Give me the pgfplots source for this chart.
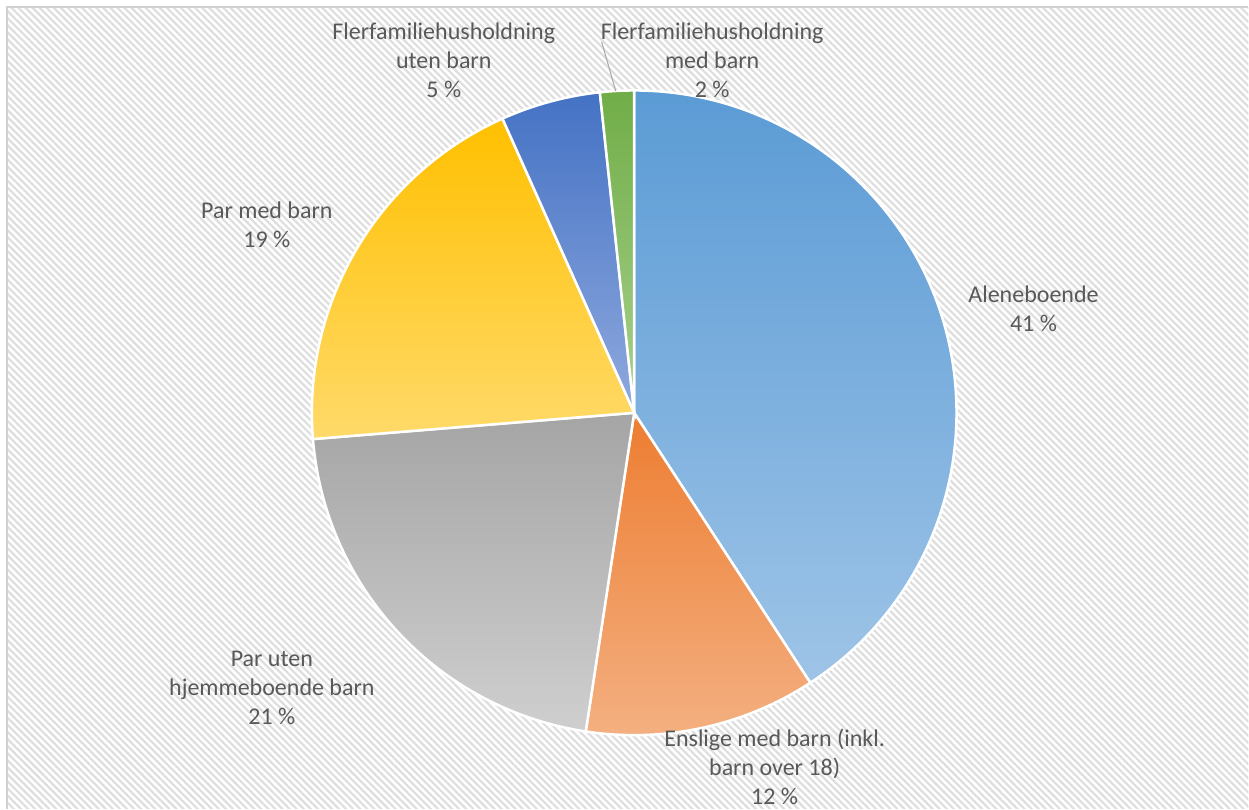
\documentclass[border=0pt]{standalone}
\usepackage{pgfplots}
\pgfplotsset{compat=1.18}
\usepackage{pgfplotstable}
\usetikzlibrary{patterns.meta}
\usepackage{fontspec}
\setmainfont{Carlito}
\definecolor{txt}{HTML}{595959}
\definecolor{aTop}{HTML}{5B9BD5}\definecolor{aBot}{HTML}{9EC4E7}
\definecolor{eTop}{HTML}{ED7D31}\definecolor{eBot}{HTML}{F4B183}
\definecolor{uTop}{HTML}{A5A5A5}\definecolor{uBot}{HTML}{CFCFCF}
\definecolor{mTop}{HTML}{FFC000}\definecolor{mBot}{HTML}{FFDA6A}
\definecolor{fTop}{HTML}{4472C4}\definecolor{fBot}{HTML}{8FA9DE}
\definecolor{gTop}{HTML}{70AD47}\definecolor{gBot}{HTML}{A9D18E}
\newcommand\lbl{\fontsize{12}{14.5}\selectfont}

\pgfplotstableread{
slice value
1 40.8
2 11.6
3 21.3
4 19.6
5 5.0
6 1.7
}\piedata

\newcommand\pieslice[3]{%
  \addplot[draw=white, line width=1.25pt, top color=#2, bottom color=#3]
    coordinates {(634.5,396)}
    -- ++(\csname sa#1\endcsname:161.25pt)
    arc[start angle=\csname sa#1\endcsname, end angle=\csname ea#1\endcsname, radius=161.25pt]
    -- cycle;}

\begin{document}
\begin{tikzpicture}
\def\acc{90}
\pgfplotsforeachungrouped \i in {0,...,5}{%
  \pgfplotstablegetelem{\i}{value}\of\piedata
  \pgfmathsetmacro\e{\acc-3.6*\pgfplotsretval}%
  \expandafter\xdef\csname sa\i\endcsname{\acc}%
  \expandafter\xdef\csname ea\i\endcsname{\e}%
  \xdef\acc{\e}%
}
\begin{axis}[
  scale only axis, width=624.5pt, height=404.5pt,
  xmin=0, xmax=1249, ymin=0, ymax=809,
  hide axis, clip=false,
]
\fill[white] (axis cs:0,0) rectangle (axis cs:1249,809);
\fill[pattern={Lines[angle=-45,distance=2.5pt,line width=1.1pt]}, pattern color=black!13]
  (axis cs:8,0) rectangle (axis cs:1249,801);
\draw[black!18, line width=0.6pt] (axis cs:7,0) -- (axis cs:7,802) -- (axis cs:1249,802);

\pieslice{0}{aTop}{aBot}
\pieslice{1}{eTop}{eBot}
\pieslice{2}{uTop}{uBot}
\pieslice{3}{mTop}{mBot}
\pieslice{4}{fTop}{fBot}
\pieslice{5}{gTop}{gBot}

\draw[black!35, line width=0.5pt] (axis cs:602,767) -- (axis cs:616,718);

\node[align=center, text=txt, font=\lbl, inner sep=0pt] at (axis cs:444,749) {Flerfamiliehusholdning\\uten barn\\5 \%};
\node[align=center, text=txt, font=\lbl, inner sep=0pt] at (axis cs:712.5,749) {Flerfamiliehusholdning\\med barn\\2 \%};
\node[align=center, text=txt, font=\lbl, inner sep=0pt] at (axis cs:1034,500.5) {Aleneboende\\41 \%};
\node[align=center, text=txt, font=\lbl, inner sep=0pt] at (axis cs:775,42) {Enslige med barn (inkl.\\barn over 18)\\12 \%};
\node[align=center, text=txt, font=\lbl, inner sep=0pt] at (axis cs:267,584.5) {Par med barn\\19 \%};
\node[align=center, text=txt, font=\lbl, inner sep=0pt] at (axis cs:272,121) {Par uten\\hjemmeboende barn\\21 \%};
\end{axis}
\end{tikzpicture}
\end{document}
